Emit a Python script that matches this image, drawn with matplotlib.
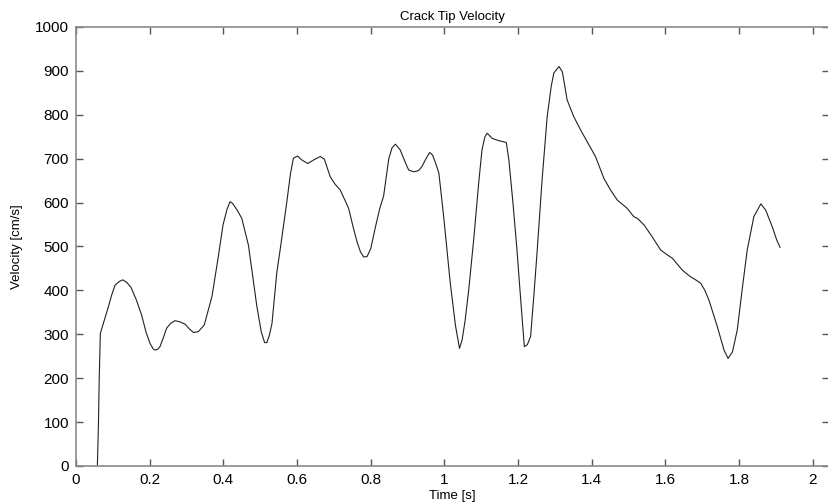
import matplotlib
matplotlib.use('Agg')
from matplotlib import pyplot as plt


# values
time_s = [0.058, 0.061, 0.063, 0.066, 0.078, 0.088, 0.097, 0.106, 0.117, 0.127,
          0.138, 0.149, 0.163, 0.178, 0.190, 0.201, 0.210, 0.216, 0.222, 0.228,
          0.237, 0.246, 0.257, 0.269, 0.283, 0.296, 0.308, 0.319, 0.332, 0.348,
          0.369, 0.385, 0.399, 0.410, 0.418, 0.425, 0.438, 0.450, 0.468, 0.480,
          0.491, 0.503, 0.512, 0.518, 0.525, 0.532, 0.545, 0.554, 0.572, 0.582,
          0.590, 0.601, 0.613, 0.629, 0.645, 0.663, 0.674, 0.690, 0.703, 0.717,
          0.740, 0.752, 0.763, 0.772, 0.781, 0.790, 0.800, 0.813, 0.824, 0.835,
          0.849, 0.858, 0.867, 0.880, 0.892, 0.903, 0.917, 0.930, 0.939, 0.950,
          0.960, 0.968, 0.976, 0.985, 0.998, 1.016, 1.030, 1.041, 1.048, 1.056,
          1.066, 1.080, 1.093, 1.102, 1.110, 1.116, 1.123, 1.130, 1.148, 1.168,
          1.175, 1.186, 1.197, 1.207, 1.217, 1.225, 1.234, 1.243, 1.252, 1.265,
          1.279, 1.290, 1.297, 1.311, 1.320, 1.327, 1.333, 1.351, 1.370, 1.390,
          1.410, 1.433, 1.450, 1.469, 1.496, 1.514, 1.524, 1.542, 1.564, 1.587,
          1.603, 1.619, 1.646, 1.668, 1.682, 1.696, 1.707, 1.718, 1.741, 1.759,
          1.770, 1.782, 1.795, 1.808, 1.822, 1.840, 1.859, 1.872, 1.890, 1.902,
          1.911]
velocity = [0, 100, 200, 302, 335, 363, 390, 412, 420, 424,
            418, 407, 380, 344, 305, 279, 266, 264, 266, 272,
            292, 314, 325, 331, 328, 323, 312, 304, 306, 321,
            386, 470, 549, 585, 602, 598, 582, 564, 503, 430,
            363, 305, 281, 281, 298, 325, 440, 492, 600, 665,
            701, 706, 697, 689, 697, 705, 699, 659, 642, 629,
            587, 545, 510, 488, 476, 477, 495, 545, 585, 615,
            700, 725, 733, 720, 695, 674, 670, 673, 682, 700,
            714, 708, 690, 667, 568, 416, 320, 268, 287, 330,
            401, 520, 644, 720, 750, 758, 752, 746, 741, 737,
            697, 600, 492, 380, 272, 276, 295, 390, 492, 650,
            796, 865, 895, 910, 898, 865, 834, 796, 765, 735,
            705, 655, 630, 606, 587, 568, 564, 549, 522, 492,
            482, 473, 446, 431, 424, 416, 400, 378, 317, 264,
            245, 260, 310, 400, 492, 568, 597, 583, 545, 515,
            498]

x_ticks = [0, 0.2, 0.4, 0.6, 0.8, 1, 1.2, 1.4, 1.6, 1.8, 2]
x_tick_labels = ['0', '0.2', '0.4', '0.6', '0.8', '1', '1.2', '1.4', '1.6', '1.8', '2']
y_ticks = [0, 100, 200, 300, 400, 500, 600, 700, 800, 900, 1000]

plt.rcParams['font.family'] = ['Liberation Sans', 'DejaVu Sans']

fig = plt.figure(figsize=(8.29, 5.03), dpi=100)
ax = fig.add_axes([0.0917, 0.0736, 0.9083, 0.8728])

ax.plot(time_s, velocity, color='#222222', linewidth=0.8)

ax.set_xlim(0, 2.044)
ax.set_ylim(0, 1000)
ax.set_xticks(x_ticks)
ax.set_xticklabels(x_tick_labels)
ax.set_yticks(y_ticks)

for spine in ax.spines.values():
    spine.set_color('#8a8a8a')
    spine.set_linewidth(1.2)

ax.tick_params(direction='in', length=5, width=1, color='#555555',
               top=True, right=True, labelsize=11, pad=5, labelcolor='black')

ax.set_title('Crack Tip Velocity', fontsize=9.5, pad=5)
ax.set_xlabel('Time [s]', fontsize=9.5, labelpad=2)
ax.set_ylabel('Velocity [cm/s]', fontsize=9.5, labelpad=9)

fig.savefig('out.png', dpi=100)
plt.close(fig)
